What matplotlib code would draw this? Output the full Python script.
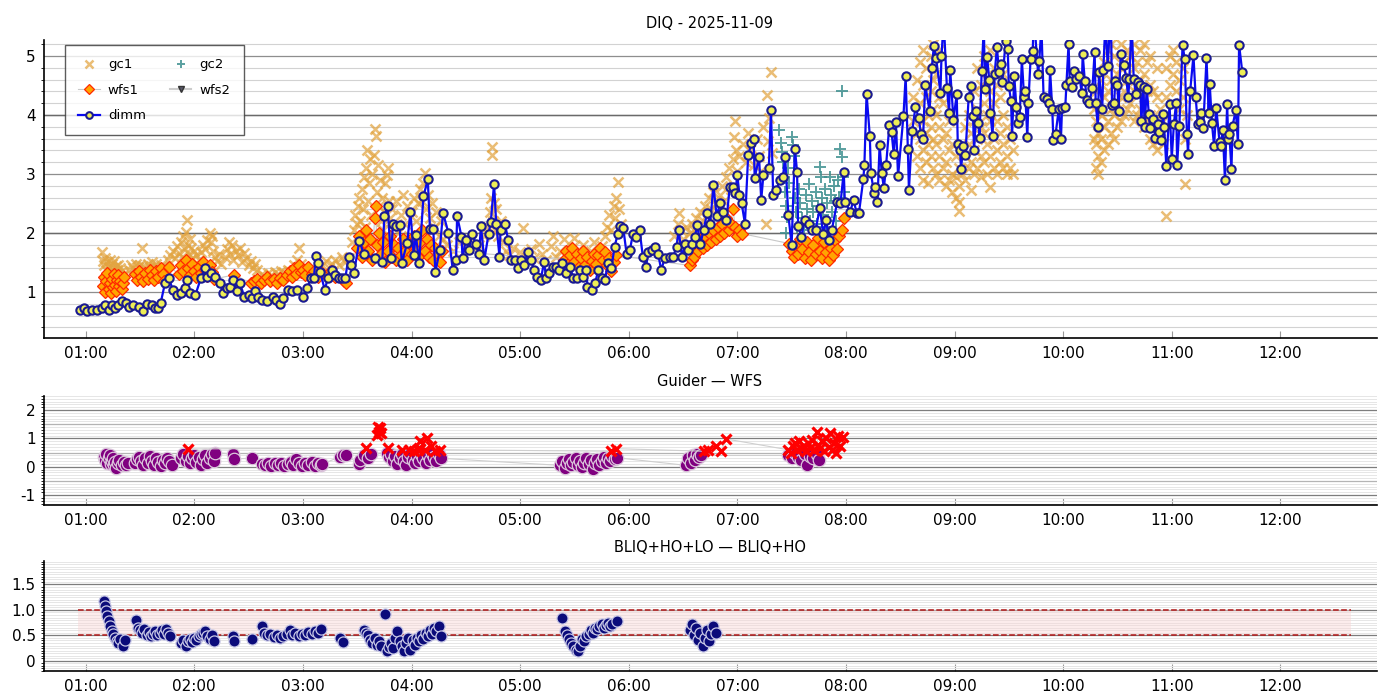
import matplotlib
matplotlib.use("Agg")
import matplotlib.pyplot as plt
from matplotlib.ticker import MultipleLocator, FuncFormatter, FixedLocator

# ---------------- data (time in decimal hours UTC, value) ----------------
dimm = [
(0.95,0.69),(0.98,0.72),(1.01,0.67),(1.06,0.69),(1.10,0.69),(1.15,0.72),(1.18,0.78),(1.21,0.69),(1.24,0.78),(1.27,0.72),
(1.30,0.78),(1.33,0.84),(1.37,0.81),(1.40,0.75),(1.44,0.78),(1.49,0.75),(1.53,0.68),(1.56,0.80),(1.61,0.78),(1.64,0.72),
(1.67,0.73),(1.69,0.81),(1.73,1.15),(1.77,1.23),(1.80,1.03),(1.84,0.95),(1.88,0.98),(1.91,1.06),(1.93,1.20),(1.96,0.98),
(2.01,0.95),(2.06,1.23),(2.10,1.40),(2.12,1.26),(2.15,1.32),(2.19,1.26),(2.24,1.15),(2.26,0.98),(2.30,1.06),(2.33,1.09),
(2.36,1.20),(2.39,1.01),(2.42,1.15),(2.46,0.92),(2.50,0.95),(2.53,0.89),(2.56,1.01),(2.59,0.92),(2.62,0.86),(2.67,0.84),
(2.72,0.92),(2.75,0.86),(2.79,0.80),(2.82,0.89),(2.86,1.03),(2.90,1.01),(2.95,1.03),(3.00,0.92),(3.04,1.06),(3.07,1.23),
(3.10,1.23),(3.12,1.61),(3.14,1.49),(3.16,1.34),(3.20,1.04),(3.23,1.23),(3.27,1.37),(3.30,1.29),(3.33,1.23),(3.36,1.23),
(3.39,1.23),(3.42,1.59),(3.44,1.46),(3.47,1.32),(3.52,1.87),(3.56,1.64),(3.66,1.57),(3.73,1.50),(3.75,2.29),(3.78,2.46),
(3.81,1.57),(3.83,2.16),(3.86,2.11),(3.89,2.14),(3.91,1.49),(3.96,1.83),(3.99,2.36),(4.02,1.63),(4.04,1.97),(4.07,1.49),
(4.11,2.62),(4.15,2.91),(4.17,2.06),(4.20,2.06),(4.22,1.34),(4.26,1.71),(4.29,2.34),(4.34,2.00),
(4.38,1.37),(4.41,1.54),(4.42,2.29),(4.46,1.94),(4.47,1.57),(4.50,1.88),(4.53,1.71),(4.56,1.99),(4.59,1.82),(4.62,1.65),
(4.64,2.11),(4.67,1.54),(4.71,1.99),(4.73,2.19),(4.76,2.83),(4.78,2.16),(4.81,1.60),(4.82,2.05),(4.86,2.16),(4.89,1.88),
(4.92,1.54),(4.95,1.54),(4.98,1.40),(5.01,1.54),(5.04,1.46),(5.07,1.67),(5.10,1.54),(5.13,1.37),(5.16,1.26),(5.19,1.20),
(5.22,1.51),(5.24,1.23),(5.27,1.32),(5.30,1.43),(5.33,1.43),(5.36,1.37),(5.39,1.49),(5.42,1.32),(5.46,1.43),(5.49,1.23),
(5.52,1.23),(5.55,1.37),(5.58,1.26),(5.61,1.37),(5.62,1.09),(5.66,1.03),(5.69,1.15),(5.72,1.37),(5.75,1.23),(5.78,1.20),
(5.81,1.49),(5.84,1.40),(5.87,1.77),(5.90,1.99),(5.92,2.11),(5.95,2.08),(5.98,1.65),(6.01,1.71),(6.04,1.99),(6.07,1.94),
(6.10,2.05),(6.13,1.60),(6.16,1.43),(6.18,1.68),(6.21,1.71),(6.24,1.77),(6.27,1.65),(6.30,1.37),(6.33,1.57),(6.38,1.60),
(6.41,1.60),(6.44,1.77),(6.46,2.05),(6.49,1.60),(6.52,1.82),(6.55,1.71),(6.58,1.82),(6.61,1.94),(6.63,2.13),(6.66,1.82),
(6.69,2.05),(6.72,2.33),(6.75,2.16),(6.78,2.81),(6.81,2.28),(6.84,2.50),(6.87,2.36),(6.90,2.22),(6.93,2.78),(6.96,2.78),
(6.98,2.67),(7.00,2.98),(7.02,2.64),(7.04,2.50),(7.07,2.16),(7.10,3.32),(7.13,3.52),(7.15,3.59),(7.16,2.93),(7.20,3.29),
(7.22,2.56),(7.24,2.98),(7.29,3.10),(7.31,4.08),(7.33,2.64),(7.36,2.73),(7.39,2.90),(7.42,2.95),(7.44,3.29),(7.47,2.30),
(7.50,1.80),(7.53,3.43),(7.55,3.04),(7.56,2.11),(7.59,1.94),(7.62,2.22),(7.66,2.16),(7.69,2.05),(7.72,2.05),(7.76,2.42),
(7.79,1.99),(7.82,2.22),(7.84,1.88),(7.87,2.05),(7.92,2.53),(7.95,2.50),(7.98,3.04),(7.99,2.53),(8.04,2.36),(8.07,2.56),
(8.10,2.33),(8.12,2.34),(8.16,2.91),(8.17,3.15),(8.19,4.36),(8.22,3.64),(8.23,3.01),(8.26,2.67),(8.27,2.78),(8.29,2.53),
(8.31,3.49),(8.33,3.01),(8.35,2.76),
(8.37,3.15),(8.40,3.83),(8.42,3.71),(8.44,3.34),(8.46,3.88),(8.48,2.96),(8.53,3.99),(8.55,4.66),(8.57,3.43),(8.58,2.73),
(8.61,3.73),(8.64,4.13),(8.67,3.95),(8.69,3.68),(8.71,3.60),(8.73,4.51),(8.77,4.07),(8.79,4.79),(8.81,5.17),(8.83,4.97),
(8.87,4.38),(8.88,5.00),(8.90,5.60),(8.93,4.46),(8.95,4.04),(8.96,4.76),(8.99,3.92),(9.02,4.35),(9.03,3.50),(9.05,3.41),
(9.06,3.09),(9.08,3.47),(9.10,3.32),(9.13,4.30),(9.15,4.49),(9.17,3.99),(9.18,3.40),(9.20,4.07),(9.22,3.86),(9.23,3.61),
(9.25,4.75),(9.27,5.50),(9.28,4.44),(9.30,4.99),(9.32,4.59),(9.33,4.04),(9.35,3.64),(9.37,4.70),(9.39,5.15),(9.41,4.73),
(9.43,4.86),(9.44,4.55),(9.47,5.25),(9.49,5.11),(9.50,4.49),(9.52,4.24),(9.53,3.65),(9.55,4.66),(9.57,4.13),(9.58,3.86),
(9.60,3.97),(9.62,4.94),(9.64,4.31),(9.65,4.40),(9.67,3.62),(9.68,4.21),(9.70,4.94),(9.72,5.08),(9.73,5.70),(9.77,4.69),
(9.78,4.91),(9.80,5.50),(9.82,4.30),(9.85,4.27),(9.87,4.21),(9.88,4.76),(9.90,4.10),(9.91,3.58),(9.93,3.67),(9.96,4.10),
(9.98,3.60),(9.99,4.12),(10.02,4.14),(10.03,4.51),(10.05,5.21),(10.06,4.58),(10.08,4.48),(10.10,4.75),(10.12,4.61),(10.15,4.66),
(10.17,4.38),(10.18,5.03),(10.20,4.57),(10.22,4.25),(10.24,4.20),(10.27,4.46),(10.29,5.07),(10.30,4.20),(10.32,3.79),(10.33,4.72),
(10.36,4.10),(10.37,4.77),(10.39,5.60),(10.41,4.83),(10.44,5.80),(10.45,4.17),(10.47,4.21),(10.48,4.57),(10.50,4.51),(10.51,4.07),
(10.53,5.04),(10.56,4.85),(10.58,4.63),(10.60,4.30),(10.61,4.61),(10.63,5.60),(10.65,4.61),(10.67,4.36),(10.69,4.55),(10.71,4.51),
(10.72,3.90),(10.74,4.48),(10.75,3.80),(10.77,4.44),(10.79,4.01),(10.80,3.78),(10.83,3.93),(10.85,3.61),(10.87,3.84),(10.88,3.71),
(10.90,3.57),(10.92,4.02),(10.93,3.80),(10.95,3.13),(10.98,4.18),(11.00,3.26),(11.02,3.85),(11.04,4.20),(11.05,3.15),(11.07,3.82),
(11.10,5.19),(11.12,4.94),(11.14,3.68),(11.15,3.34),(11.17,4.41),(11.20,5.01),(11.22,4.31),(11.24,3.84),(11.26,3.88),(11.27,4.04),
(11.29,3.78),(11.32,4.96),(11.34,4.04),(11.35,4.52),(11.37,3.86),(11.39,3.47),(11.41,4.12),(11.44,3.54),(11.45,3.47),(11.47,3.75),
(11.49,2.89),(11.51,4.18),(11.52,3.60),(11.53,3.68),(11.55,3.08),(11.56,3.82),(11.59,4.08),(11.61,3.50),(11.62,5.19),(11.65,4.72),
]

gc1 = [
(1.15,1.68),(1.16,1.52),(1.17,1.45),(1.18,1.58),(1.19,1.38),(1.20,1.50),(1.21,1.42),(1.22,1.55),(1.23,1.36),(1.24,1.47),
(1.25,1.40),(1.26,1.52),(1.27,1.33),(1.28,1.44),(1.29,1.38),(1.30,1.46),(1.31,1.30),(1.32,1.40),(1.33,1.35),(1.34,1.28),
(1.40,1.38),(1.42,1.45),(1.44,1.40),(1.46,1.48),(1.48,1.42),(1.50,1.46),(1.52,1.74),(1.53,1.44),(1.55,1.40),(1.57,1.47),
(1.59,1.42),(1.61,1.50),(1.63,1.44),(1.65,1.48),(1.67,1.40),(1.69,1.46),(1.71,1.42),(1.73,1.38),
(1.76,1.55),(1.78,1.62),(1.80,1.70),(1.82,1.58),(1.84,1.78),(1.86,1.66),(1.88,1.85),(1.89,1.60),(1.90,1.95),(1.91,1.72),
(1.92,2.02),(1.93,2.22),(1.94,1.80),(1.95,1.65),(1.96,1.90),(1.97,1.75),(1.98,1.58),(2.00,1.70),(2.02,1.62),(2.04,1.55),
(2.06,1.68),(2.08,1.80),(2.10,1.72),(2.12,1.88),(2.14,2.00),(2.15,1.85),(2.16,1.95),(2.17,1.70),(2.19,1.60),(2.21,1.52),
(2.23,1.65),(2.25,1.48),
(2.28,1.60),(2.30,1.72),(2.32,1.85),(2.33,1.65),(2.35,1.80),(2.36,1.55),(2.38,1.70),(2.40,1.62),(2.42,1.75),(2.44,1.50),
(2.46,1.66),(2.48,1.58),(2.50,1.45),(2.52,1.52),(2.54,1.40),(2.56,1.48),(2.58,1.38),
(2.62,1.30),(2.65,1.26),(2.68,1.32),(2.71,1.28),(2.74,1.34),(2.77,1.30),(2.80,1.36),(2.83,1.32),(2.86,1.38),(2.89,1.34),
(2.92,1.45),(2.95,1.55),(2.96,1.74),(2.98,1.48),(3.00,1.40),(3.03,1.35),
(3.18,1.45),(3.21,1.52),(3.24,1.40),(3.27,1.48),(3.30,1.55),(3.33,1.45),(3.36,1.60),(3.39,1.50),(3.42,1.58),
(3.45,1.85),(3.47,2.05),(3.48,2.30),(3.50,2.15),(3.51,2.45),(3.52,2.60),(3.53,2.20),(3.54,2.75),(3.55,2.40),(3.56,2.95),
(3.57,2.10),(3.58,3.10),(3.59,3.41),(3.60,2.55),(3.61,2.85),(3.62,3.25),(3.63,2.30),(3.64,3.00),(3.65,3.32),(3.66,3.77),
(3.67,3.65),(3.68,2.70),(3.69,3.15),(3.70,2.45),(3.71,2.90),(3.72,2.20),(3.73,2.60),(3.74,2.05),(3.75,2.35),(3.76,2.85),
(3.77,2.98),(3.78,3.10),(3.79,2.55),(3.80,2.25),
(3.82,2.40),(3.84,2.10),(3.86,2.55),(3.88,2.00),(3.90,2.30),(3.92,2.65),(3.94,2.15),(3.96,2.45),(3.98,1.95),(4.00,2.35),
(4.02,2.60),(4.04,2.20),(4.06,2.50),(4.08,2.75),(4.10,2.55),(4.11,2.85),(4.12,3.01),(4.13,2.40),(4.15,2.65),(4.17,2.25),
(4.19,2.50),(4.21,2.10),(4.23,2.35),(4.25,1.95),(4.27,2.20),(4.29,1.90),
(4.33,1.80),(4.38,1.70),(4.44,1.85),(4.50,1.75),(4.56,1.90),(4.62,1.80),(4.67,1.95),
(4.70,2.10),(4.72,2.35),(4.73,2.60),(4.74,3.46),(4.745,3.32),(4.75,2.20),(4.76,2.50),(4.77,2.05),(4.78,2.40),(4.80,1.95),
(4.82,2.20),(4.84,1.85),
(4.87,1.70),(4.90,1.62),(4.93,1.75),(4.96,1.55),(5.00,1.68),(5.03,2.08),(5.06,1.60),(5.10,1.72),(5.13,1.58),(5.17,1.82),
(5.20,1.65),(5.24,1.55),(5.28,1.78),(5.30,1.95),(5.33,1.60),(5.37,1.70),(5.40,1.90),(5.44,1.62),(5.48,1.75),(5.50,1.92),
(5.54,1.65),(5.58,1.80),(5.62,1.58),(5.65,1.70),(5.68,1.85),(5.72,1.62),(5.75,1.78),
(5.78,1.95),(5.80,2.10),(5.82,2.30),(5.84,2.05),(5.86,2.45),(5.87,2.25),(5.88,2.60),(5.90,2.87),(5.91,2.40),(5.93,2.15),
(6.42,1.95),(6.45,2.15),(6.46,2.33),(6.48,2.05),(6.50,1.90),(6.53,2.10),
(6.56,2.00),(6.58,2.15),(6.60,2.05),(6.62,2.25),(6.64,2.10),(6.66,2.35),(6.68,2.20),(6.70,2.45),(6.72,2.30),(6.74,2.60),
(6.76,2.40),(6.78,2.70),(6.80,2.50),(6.82,2.35),(6.84,2.65),(6.86,2.80),(6.88,2.55),(6.90,2.95),(6.92,3.10),(6.94,2.75),
(6.96,3.25),(6.97,3.63),(6.98,3.90),(6.99,3.40),(7.00,3.05),
(7.02,3.30),(7.05,3.50),(7.08,3.20),(7.10,3.70),(7.12,3.40),(7.15,3.15),(7.18,3.60),(7.20,3.30),(7.22,3.05),(7.24,3.80),
(7.26,2.16),(7.27,4.33),(7.28,3.55),(7.29,3.95),(7.31,4.73),(7.32,3.35),
(8.62,3.90),(8.62,4.30),(8.65,3.30),(8.65,3.70),(8.65,4.60),(8.68,3.10),(8.68,3.60),(8.68,4.20),(8.68,4.90),
(8.71,2.90),(8.71,3.40),(8.71,3.90),(8.71,4.50),(8.71,5.10),(8.74,3.20),(8.74,3.70),(8.74,4.30),(8.74,4.80),
(8.76,2.85),(8.76,3.50),(8.76,4.00),(8.78,3.30),(8.78,3.80),(8.78,4.40),(8.78,5.00),
(8.80,3.10),(8.80,3.60),(8.80,4.10),(8.80,4.60),(8.80,5.20),(8.83,3.00),(8.83,3.50),(8.83,4.00),(8.83,4.70),
(8.86,2.90),(8.86,3.30),(8.86,3.80),(8.86,4.30),(8.86,5.10),(8.89,3.10),(8.89,3.60),(8.89,4.20),
(8.92,2.80),(8.92,3.20),(8.92,3.70),(8.95,2.90),(8.95,3.40),(8.95,3.90),(8.98,2.70),(8.98,3.00),(8.98,3.50),
(9.01,2.60),(9.01,2.95),(9.01,3.30),(9.04,2.38),(9.04,2.53),(9.04,2.80),(9.04,3.10),
(9.07,3.00),(9.07,3.40),(9.10,2.90),(9.10,3.30),(9.10,3.80),(9.13,3.10),(9.13,3.50),(9.13,4.00),
(9.15,2.73),(9.15,3.20),(9.15,3.70),(9.18,3.00),(9.18,3.40),(9.18,3.90),(9.18,4.40),
(9.21,3.10),(9.21,3.60),(9.21,4.10),(9.21,4.80),(9.24,2.95),(9.24,3.30),(9.24,3.80),(9.24,4.50),
(9.27,3.20),(9.27,3.70),(9.27,4.20),(9.27,5.00),(9.30,3.00),(9.30,3.50),(9.30,4.00),(9.30,4.60),
(9.33,2.78),(9.33,3.30),(9.33,3.90),(9.33,4.40),(9.33,5.10),(9.36,3.10),(9.36,3.60),(9.36,4.20),(9.36,4.80),
(9.39,3.00),(9.39,3.40),(9.39,3.90),(9.39,4.50),(9.42,3.20),(9.42,3.70),(9.42,4.30),
(9.45,3.10),(9.45,3.50),(9.45,4.00),(9.45,4.70),(9.48,3.00),(9.48,3.30),(9.48,3.80),(9.51,3.10),(9.51,3.60),
(9.54,3.00),(9.54,3.40),
(10.28,3.60),(10.28,4.10),(10.30,3.10),(10.30,3.50),(10.30,3.90),(10.30,4.40),(10.32,3.00),(10.32,3.30),(10.32,3.70),(10.32,4.20),
(10.35,3.20),(10.35,3.60),(10.35,4.00),(10.35,4.60),(10.38,3.40),(10.38,3.80),(10.38,4.30),(10.38,4.90),
(10.41,3.50),(10.41,3.90),(10.41,4.40),(10.41,5.10),(10.44,3.70),(10.44,4.10),(10.44,4.60),(10.44,5.20),
(10.47,3.60),(10.47,4.00),(10.47,4.50),(10.47,5.00),(10.50,3.80),(10.50,4.20),(10.50,4.70),
(10.53,3.90),(10.53,4.30),(10.53,4.80),(10.53,5.20),(10.56,4.00),(10.56,4.40),(10.56,4.90),(10.59,4.10),(10.59,4.60),(10.59,5.10),
(10.62,4.20),(10.62,4.60),(10.62,5.00),(10.65,3.90),(10.65,4.40),(10.65,4.80),(10.65,5.20),(10.68,4.00),(10.68,4.50),(10.68,4.90),
(10.71,4.10),(10.71,4.60),(10.71,5.10),(10.74,3.80),(10.74,4.30),(10.74,4.70),(10.74,5.20),(10.77,3.90),(10.77,4.40),(10.77,4.90),
(10.80,3.60),(10.80,4.00),(10.80,4.50),(10.80,5.00),(10.83,3.50),(10.83,3.90),(10.83,4.40),
(10.86,3.40),(10.86,3.80),(10.86,4.30),(10.86,4.80),(10.89,3.60),(10.89,4.10),(10.92,3.50),(10.92,3.90),
(10.95,2.28),(10.95,4.30),(10.95,4.80),(10.98,4.50),(10.98,5.00),(11.01,4.20),(11.01,4.70),(11.01,5.10),
(11.04,4.40),(11.04,4.90),(11.07,4.10),(11.07,4.60),(11.10,4.30),(11.10,4.80),(11.12,2.83),(11.12,3.60),(11.14,4.00),
]

gc2 = [
(7.38,3.74),(7.40,3.52),(7.41,3.38),(7.42,3.21),(7.43,2.95),(7.44,2.70),(7.45,2.45),(7.46,2.27),(7.47,3.10),(7.48,2.85),
(7.50,3.63),(7.51,3.49),(7.52,3.30),(7.53,2.60),(7.54,2.35),(7.55,2.10),(7.57,2.75),(7.58,2.50),(7.60,2.25),(7.61,2.05),
(7.63,2.65),(7.64,2.40),(7.66,2.83),(7.67,2.20),(7.69,2.55),(7.70,2.35),(7.72,2.70),(7.73,2.15),(7.74,2.45),(7.76,3.12),
(7.77,2.95),(7.78,2.60),(7.79,2.30),(7.81,2.75),(7.82,2.10),(7.83,2.50),(7.85,2.95),(7.86,2.65),(7.87,2.35),(7.89,2.80),
(7.90,2.55),(7.91,2.20),(7.93,2.90),(7.94,2.60),(7.95,3.43),(7.96,4.40),(7.96,3.29),(7.97,2.95),(7.98,2.70),(7.45,2.00),
]

wfs1 = [
(1.16,1.10),(1.17,1.25),(1.18,1.00),(1.19,1.18),(1.20,1.32),(1.21,1.05),(1.22,1.15),(1.23,0.98),(1.24,1.22),(1.25,1.08),
(1.26,1.30),(1.27,1.12),(1.28,1.02),(1.29,1.20),(1.30,1.28),(1.31,1.10),(1.32,1.18),(1.33,1.05),(1.34,1.15),(1.35,1.25),
(1.45,1.30),(1.47,1.20),(1.49,1.35),(1.51,1.25),(1.53,1.18),(1.55,1.32),(1.57,1.22),(1.59,1.38),(1.61,1.28),(1.63,1.20),
(1.65,1.35),(1.67,1.25),(1.69,1.40),(1.71,1.30),(1.72,1.18),(1.77,1.43),
(1.86,1.30),(1.88,1.45),(1.90,1.35),(1.92,1.55),(1.94,1.40),(1.96,1.28),(1.98,1.48),(2.00,1.36),(2.02,1.25),(2.04,1.42),
(2.06,1.32),(2.08,1.50),(2.10,1.38),(2.12,1.27),(2.14,1.45),(2.16,1.33),(2.18,1.22),(2.37,1.29),(2.52,1.15),
(2.55,1.18),(2.58,1.22),(2.61,1.15),(2.64,1.20),(2.67,1.25),(2.70,1.18),(2.73,1.22),(2.76,1.16),(2.79,1.24),(2.82,1.20),
(2.85,1.28),(2.88,1.35),(2.90,1.25),(2.92,1.40),(2.94,1.30),(2.96,1.45),(2.98,1.33),(3.00,1.38),(3.02,1.28),(3.05,1.42),
(3.08,1.30),(3.10,1.36),(3.14,1.25),(3.18,1.32),(3.22,1.28),(3.26,1.35),(3.30,1.25),(3.38,1.18),(3.40,1.15),
(3.50,1.75),(3.52,1.95),(3.54,1.60),(3.56,1.85),(3.58,2.05),(3.60,1.70),(3.62,1.90),(3.64,1.55),(3.66,2.25),(3.67,2.45),
(3.68,1.80),(3.70,2.00),(3.72,1.65),(3.74,1.85),(3.76,1.50),(3.78,1.70),(3.80,1.95),(3.82,1.60),(3.84,1.80),(3.86,1.55),
(3.88,1.75),(3.90,1.62),(3.92,1.90),(3.94,1.70),(3.96,1.55),(3.98,1.85),(4.00,1.65),(4.02,1.95),(4.04,1.75),(4.06,1.60),
(4.08,1.85),(4.10,2.05),(4.12,1.70),(4.14,1.90),(4.16,1.60),(4.18,1.80),(4.20,1.55),(4.22,1.75),(4.24,1.65),(4.26,1.50),
(4.28,1.70),
(5.40,1.55),(5.42,1.70),(5.44,1.48),(5.46,1.62),(5.48,1.75),(5.50,1.50),(5.52,1.65),(5.54,1.42),(5.56,1.58),(5.58,1.70),
(5.60,1.45),(5.62,1.60),(5.64,1.38),(5.66,1.52),(5.68,1.65),(5.70,1.48),(5.72,1.62),(5.74,1.75),(5.76,1.55),(5.78,1.68),
(5.80,1.45),(5.82,1.58),(5.84,1.35),(5.86,1.50),(5.88,1.62),
(6.56,1.45),(6.58,1.55),(6.60,1.60),(6.62,1.82),(6.64,1.70),(6.66,1.90),(6.68,1.75),(6.70,1.95),(6.72,1.80),(6.74,2.00),
(6.76,1.85),(6.78,2.05),(6.80,1.90),(6.82,2.10),(6.84,1.95),(6.86,2.15),(6.88,2.00),(6.90,2.25),(6.92,2.05),(6.94,2.15),
(6.96,2.40),(6.98,2.10),(7.00,1.95),(7.02,2.05),(7.04,1.99),
(7.48,1.82),(7.50,1.70),(7.52,1.60),(7.54,1.78),(7.56,1.65),(7.58,1.90),(7.60,1.72),(7.62,1.58),(7.64,1.85),(7.66,1.68),
(7.68,1.55),(7.70,1.80),(7.72,1.65),(7.74,1.92),(7.76,1.70),(7.78,1.58),(7.80,1.85),(7.82,1.68),(7.84,1.55),(7.86,1.75),
(7.88,1.62),(7.90,1.88),(7.92,1.72),(7.94,1.95),(7.96,2.05),(7.98,2.25),
]

guider = [
(1.17,0.35),(1.18,0.25),(1.19,0.45),(1.20,0.15),(1.21,0.30),(1.22,0.40),(1.23,0.10),(1.24,0.22),(1.25,0.32),(1.26,0.05),
(1.27,0.18),(1.28,-0.03),(1.30,0.12),(1.31,0.25),(1.33,0.08),(1.35,0.18),(1.37,0.05),(1.39,0.15),
(1.45,0.15),(1.47,0.28),(1.49,0.35),(1.51,0.20),(1.53,0.05),(1.55,0.30),(1.57,0.15),(1.59,0.38),(1.61,0.22),(1.63,0.08),
(1.65,0.30),(1.67,0.18),(1.69,0.02),(1.71,0.25),(1.73,0.12),(1.75,0.30),(1.77,0.20),(1.79,0.05),
(1.88,0.30),(1.90,0.45),(1.92,0.20),(1.94,0.38),(1.96,0.12),(1.98,0.30),(2.00,0.42),(2.02,0.18),(2.04,0.35),(2.06,0.08),
(2.08,0.28),(2.10,0.40),(2.12,0.15),(2.14,0.32),(2.16,0.45),(2.18,0.22),(2.19,0.50),
(2.36,0.45),(2.37,0.28),(2.53,0.30),
(2.62,0.10),(2.65,0.05),(2.68,0.15),(2.71,0.02),(2.74,0.12),(2.77,0.06),(2.80,0.14),(2.83,0.03),(2.86,0.10),(2.89,0.18),
(2.91,0.05),(2.94,0.26),(2.96,0.12),(2.99,0.04),(3.02,0.15),(3.05,0.08),(3.08,0.18),(3.11,0.02),(3.14,0.12),(3.17,0.05),
(3.18,0.10),(3.34,0.35),(3.37,0.42),(3.40,0.40),
(3.52,0.10),(3.53,0.25),(3.56,0.40),(3.60,0.30),(3.63,0.45),
(3.77,0.50),(3.79,0.35),(3.81,0.45),(3.83,0.20),(3.85,0.38),(3.87,0.10),(3.89,0.30),(3.91,0.45),(3.93,0.22),(3.95,0.08),
(3.97,0.35),(3.99,0.48),(4.01,0.25),(4.03,0.12),(4.05,0.38),(4.07,0.20),(4.09,0.45),(4.11,0.30),(4.13,0.15),(4.15,0.40),
(4.17,0.25),(4.19,0.50),(4.21,0.35),(4.23,0.20),(4.25,0.45),(4.27,0.30),
(5.37,0.05),(5.39,0.20),(5.41,-0.05),(5.43,0.12),(5.45,0.28),(5.47,0.05),(5.49,0.18),(5.51,0.30),(5.53,0.08),(5.55,0.22),
(5.57,-0.02),(5.59,0.15),(5.61,0.32),(5.63,0.10),(5.65,0.25),(5.67,-0.08),(5.69,0.12),(5.71,0.28),(5.73,0.05),(5.75,0.20),
(5.77,0.35),(5.79,0.15),(5.81,0.30),(5.83,0.22),(5.85,0.38),(5.87,0.28),(5.89,0.32),
(6.53,0.05),(6.55,0.30),(6.57,0.15),(6.59,0.40),(6.61,0.25),(6.63,0.45),(6.65,0.35),(6.67,0.40),
(7.47,0.40),(7.50,0.30),(7.53,0.50),(7.56,0.35),(7.59,0.25),(7.62,0.45),(7.64,0.08),(7.67,0.38),(7.70,0.30),(7.73,0.45),
(7.75,0.25),
]

wfs = [
(1.94,0.63),(3.58,0.66),(3.68,1.13),(3.69,1.42),(3.70,1.24),(3.71,1.36),(3.72,1.19),(3.78,0.65),(3.91,0.60),(3.98,0.60),
(4.02,0.55),(4.06,0.60),(4.07,0.66),(4.08,0.90),(4.12,0.58),(4.14,1.00),(4.18,0.72),(4.22,0.55),(4.26,0.60),(5.84,0.55),
(5.88,0.64),(6.69,0.55),(6.73,0.60),(6.80,0.72),(6.85,0.55),(6.90,0.98),
(7.47,0.60),(7.49,0.50),(7.51,0.72),(7.53,0.84),(7.55,0.60),(7.57,0.90),(7.59,0.65),(7.61,0.75),(7.63,0.55),(7.65,0.85),
(7.67,0.68),(7.69,0.95),(7.71,0.60),(7.73,1.24),(7.74,0.78),(7.76,0.65),(7.78,0.90),(7.80,0.55),(7.82,1.00),(7.84,0.70),
(7.85,1.19),(7.87,0.60),(7.89,0.85),(7.91,0.50),(7.93,1.09),(7.95,0.75),(7.97,1.05),
]

bliq = [
(1.17,1.17),(1.18,1.07),(1.19,0.97),(1.20,0.88),(1.21,0.78),(1.22,0.68),(1.24,0.58),(1.25,0.52),(1.27,0.45),(1.29,0.39),
(1.30,0.35),(1.32,0.42),(1.34,0.29),(1.36,0.41),
(1.46,0.81),(1.48,0.65),(1.50,0.60),(1.52,0.55),(1.54,0.62),(1.56,0.50),(1.58,0.56),(1.60,0.48),(1.62,0.53),(1.64,0.58),
(1.66,0.50),(1.68,0.55),(1.70,0.60),(1.72,0.52),(1.74,0.63),(1.76,0.55),(1.78,0.48),
(1.88,0.35),(1.90,0.40),(1.92,0.29),(1.94,0.38),(1.96,0.42),(1.98,0.36),(2.00,0.45),(2.02,0.40),(2.04,0.48),(2.06,0.52),
(2.08,0.55),(2.10,0.58),(2.12,0.48),(2.14,0.42),(2.16,0.50),(2.18,0.39),
(2.36,0.48),(2.37,0.39),(2.53,0.43),(2.62,0.69),
(2.64,0.55),(2.67,0.50),(2.70,0.52),(2.73,0.47),(2.76,0.50),(2.79,0.45),(2.82,0.48),(2.85,0.52),(2.88,0.60),(2.90,0.50),
(2.93,0.55),(2.96,0.48),(2.99,0.53),(3.02,0.50),(3.05,0.56),(3.08,0.52),(3.11,0.58),(3.14,0.54),(3.17,0.62),
(3.34,0.45),(3.37,0.37),
(3.56,0.61),(3.58,0.55),(3.60,0.50),(3.62,0.40),(3.64,0.35),(3.66,0.45),(3.68,0.32),(3.70,0.38),(3.72,0.30),(3.76,0.91),
(3.77,0.19),(3.79,0.28),(3.81,0.35),(3.83,0.25),(3.85,0.45),(3.87,0.58),(3.89,0.38),(3.91,0.30),(3.93,0.19),(3.95,0.35),
(3.97,0.45),(3.99,0.22),(4.01,0.40),(4.03,0.32),(4.05,0.45),(4.07,0.38),(4.09,0.50),(4.11,0.42),(4.13,0.55),(4.15,0.48),
(4.17,0.60),(4.19,0.52),(4.21,0.65),(4.23,0.58),(4.25,0.68),(4.27,0.48),
(5.39,0.84),(5.41,0.58),(5.43,0.50),(5.45,0.42),(5.47,0.35),(5.49,0.29),(5.51,0.22),(5.53,0.19),(5.55,0.30),(5.57,0.42),
(5.59,0.38),(5.61,0.48),(5.63,0.52),(5.65,0.60),(5.67,0.55),(5.69,0.65),(5.71,0.62),(5.73,0.68),(5.75,0.72),(5.77,0.65),
(5.79,0.70),(5.81,0.75),(5.83,0.68),(5.85,0.72),(5.89,0.78),
(6.56,0.60),(6.58,0.72),(6.60,0.50),(6.62,0.65),(6.64,0.40),(6.66,0.55),(6.68,0.29),(6.70,0.45),(6.72,0.60),(6.74,0.38),
(6.76,0.52),(6.78,0.68),(6.80,0.55),
]

band_x = [0.93, 12.65]     # extent of the target band (hours)
band_lo, band_hi = 0.5, 1.0

title_main = "DIQ - 2025-11-09"
title_mid = "Guider \u2014 WFS"
title_bot = "BLIQ+HO+LO \u2014 BLIQ+HO"
xlim = (0.616, 12.89)

def split(p):
    return [a for a, _ in p], [b for _, b in p]

# ---------------- figure ----------------
fig = plt.figure(figsize=(14, 7), dpi=100)
L, W = 44/1400, 1333/1400
ax1 = fig.add_axes([L, 1-338/700, W, 298/700])
ax2 = fig.add_axes([L, 1-505/700, W, 109/700])
ax3 = fig.add_axes([L, 1-671/700, W, 110/700])

def hfmt(x, pos):
    return "%02d:00" % int(round(x))

for ax in (ax1, ax2, ax3):
    ax.set_xlim(*xlim)
    ax.xaxis.set_major_locator(MultipleLocator(1))
    ax.xaxis.set_major_formatter(FuncFormatter(hfmt))
    ax.tick_params(axis='x', direction='in', length=5, color='#999999', labelsize=11, pad=6)
    ax.tick_params(axis='y', length=0, labelsize=11, pad=6)
    for s in ('top', 'right'):
        ax.spines[s].set_visible(False)
    for s in ('left', 'bottom'):
        ax.spines[s].set_color('black')
        ax.spines[s].set_linewidth(1.2)
    ax.set_axisbelow(True)

# ----- top panel -----
ax1.set_ylim(0.22, 5.27)
ax1.yaxis.set_major_locator(FixedLocator([1, 2, 3, 4, 5]))
ax1.yaxis.set_minor_locator(MultipleLocator(0.2))
ax1.grid(axis='y', which='minor', color='#d2d2d2', lw=0.8)
ax1.grid(axis='y', which='major', color='#8e8e8e', lw=0.9)
for yv in (2, 4):
    ax1.axhline(yv, color='#6a6a6a', lw=1.0, zorder=0.6)
ax1.yaxis.set_major_formatter(FuncFormatter(lambda v, p: "%d" % round(v)))

t, v = split(gc1)
ax1.plot(t, v, ls='none', marker='x', ms=7, mew=1.8, color='#e2a440', alpha=0.72, label='gc1', zorder=2)
t, v = split(wfs1)
ax1.plot(t, v, ls='-', lw=0.8, color='#c8c8c8', marker='D', ms=6.5, mfc='#ffa500', mec='#ff2a00', mew=0.9,
         label='wfs1', zorder=3)
t, v = split(dimm)
ax1.plot(t, v, ls='-', lw=1.6, color='#0a0af0', marker='o', ms=6, mfc='#eeee55', mec='#1a1a90', mew=1.5,
         label='dimm', zorder=5)
t, v = split(gc2)
ax1.plot(t, v, ls='none', marker='+', ms=8, mew=1.4, color='#3d8f8f', alpha=0.85, label='gc2', zorder=2.5)
ax1.plot([], [], ls='-', lw=1.5, color='#cccccc', marker='v', ms=6, mfc='#555566', mec='#333333', label='wfs2')

h, l = ax1.get_legend_handles_labels()
order = [l.index(k) for k in ['gc1', 'wfs1', 'dimm', 'gc2', 'wfs2']]
leg = ax1.legend([h[i] for i in order], [l[i] for i in order], ncol=2, loc='upper left',
                 bbox_to_anchor=(21/1333, 293/298), borderaxespad=0, fontsize=9.5, fancybox=False,
                 edgecolor='#333333', framealpha=0.8, markerscale=0.8, handlelength=1.65,
                 handletextpad=0.6, columnspacing=1.8, borderpad=1.0, labelspacing=0.95)
leg.get_frame().set_linewidth(1.0)
leg.set_zorder(10)

fig.text(710/1400, 1-24/700, title_main, ha='center', va='center', fontsize=10.5)

# ----- middle panel -----
ax2.set_ylim(-1.35, 2.5)
ax2.yaxis.set_major_locator(FixedLocator([-1, 0, 1, 2]))
ax2.yaxis.set_minor_locator(MultipleLocator(0.1))
ax2.grid(axis='y', which='minor', color='#e6e6e6', lw=0.7)
ax2.grid(axis='y', which='major', color='#7d7d7d', lw=0.9)
for yv in (-0.5, 0.5, 1.5):
    ax2.axhline(yv, color='#b4b4b4', lw=0.9, zorder=0.6)
ax2.yaxis.set_major_formatter(FuncFormatter(lambda v, p: "%d" % round(v)))
t, v = split(guider)
ax2.plot(t, v, ls='-', lw=0.8, color='#cfcfcf', marker='o', ms=9, mfc='#800080', mec='#dcc8dc', mew=0.9,
         zorder=3)
t, v = split(wfs)
ax2.plot(t, v, ls='-', lw=0.8, color='#cfcfcf', marker='x', ms=6.5, mew=2.3, mec='#ff0000', zorder=4)
fig.text(710/1400, 1-381/700, title_mid, ha='center', va='center', fontsize=10.5)

# ----- bottom panel -----
ax3.set_ylim(-0.2, 1.96)
ax3.yaxis.set_major_locator(FixedLocator([0, 0.5, 1.0, 1.5]))
ax3.yaxis.set_minor_locator(MultipleLocator(0.05))
ax3.grid(axis='y', which='minor', color='#e6e6e6', lw=0.7)
ax3.grid(axis='y', which='major', color='#7d7d7d', lw=0.9)
ax3.yaxis.set_major_formatter(FuncFormatter(lambda v, p: "0" if abs(v) < 1e-9 else "%.1f" % v))
ax3.fill_between(band_x, [band_lo]*2, [band_hi]*2, color='#f9d6d6', alpha=0.45, lw=0, zorder=1)
ax3.plot(band_x, [band_lo]*2, ls='--', lw=1.1, color='#b01818', zorder=2)
ax3.plot(band_x, [band_hi]*2, ls='--', lw=1.1, color='#b01818', zorder=2)
t, v = split(bliq)
ax3.plot(t, v, ls='none', marker='o', ms=8, mfc='#0b0b7a', mec='#c8c8e6', mew=0.9, zorder=3)
fig.text(710/1400, 1-548/700, title_bot, ha='center', va='center', fontsize=10.5)

fig.savefig("out.png", dpi=100)
